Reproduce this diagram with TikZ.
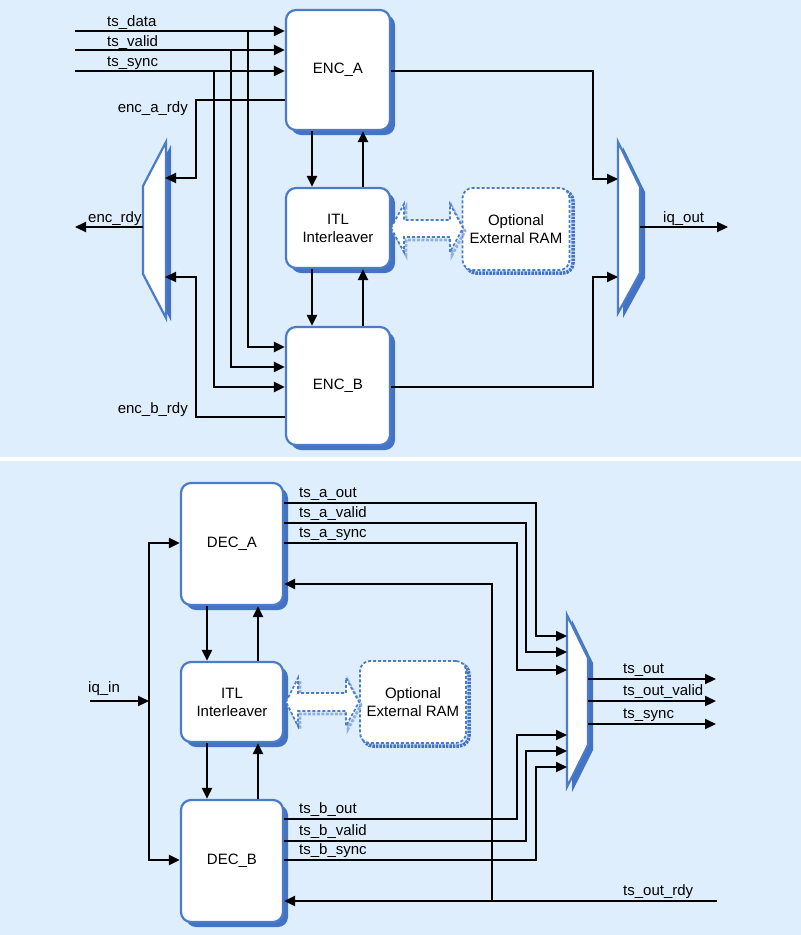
\documentclass[tikz,border=0pt]{standalone}
\usepackage{fontspec}
\setmainfont{Liberation Sans}
\usetikzlibrary{arrows.meta,shadows}
\definecolor{bg}{RGB}{222,238,253}
\definecolor{boxblue}{RGB}{74,124,200}
\definecolor{shblue}{RGB}{68,114,196}
\begin{document}
\begin{tikzpicture}[x=1pt,y=-1pt,font=\fontsize{15}{18}\selectfont,
  blk/.style={draw=boxblue,line width=2.2pt,fill=white,rounded corners=10pt,align=center,inner sep=0pt,
    drop shadow={shadow xshift=5pt,shadow yshift=-5pt,fill=shblue,opacity=1}},
  ram/.style={draw=boxblue,line width=1.8pt,dash pattern=on 3pt off 2pt,fill=white,rounded corners=10pt,align=center,inner sep=0pt},
  ramshadow/.style={draw=shblue,line width=3.5pt,dash pattern=on 2.5pt off 1pt,rounded corners=10pt},
  dblarrow/.style={draw=boxblue,line width=1.7pt,dash pattern=on 3pt off 2pt,fill=white},
  dblshadow/.style={draw=boxblue!60,line width=2.8pt,dash pattern=on 3pt off 1.5pt},
  muxbody/.style={draw=boxblue,line width=2.2pt,fill=white,line join=miter},
  muxshadow/.style={fill=shblue},
  wire/.style={line width=2.2pt,black},
  arr/.style={wire,-{Triangle[length=11pt,width=10pt]}},
  lbl/.style={inner sep=0pt}]
\useasboundingbox (0,0) rectangle (801,935);
% panels
\fill[white] (0,0) rectangle (801,935);
\fill[bg] (0,0) rectangle (801,457);
\fill[bg] (0,461) rectangle (801,935);

%================ TOP PANEL =================
\node[blk,minimum width=104pt,minimum height=120pt] (ENCA) at (338,70) {ENC\_A};
\node[blk,minimum width=104pt,minimum height=80pt] (ITLA) at (338,228) {ITL\\Interleaver};
\node[blk,minimum width=104pt,minimum height=118pt] (ENCB) at (338,386) {ENC\_B};
% external RAM (top)
\draw[ramshadow] (466,191) rectangle (573,273);
\node[ram,minimum width=107pt,minimum height=82pt] (RAMA) at (516,229) {Optional\\External RAM};
% double arrow (top)
\path[dblshadow] (393,231) -- (406,207) -- (406,223) -- (452,223) -- (452,207) -- (465,231) -- (452,255) -- (452,240) -- (406,240) -- (406,255) -- cycle;
\path[dblarrow] (391,228) -- (404,204) -- (404,220) -- (450,220) -- (450,204) -- (463,228) -- (450,252) -- (450,237) -- (404,237) -- (404,252) -- cycle;
% muxes (top)
\path[muxshadow] (171,145) -- (171,321) -- (148,277) -- (148,189) -- cycle;
\path[muxbody] (166,142) -- (166,318) -- (143,274) -- (143,186) -- cycle;
\path[muxshadow] (623,147) -- (645,192) -- (645,278) -- (623,318) -- cycle;
\path[muxbody] (618,142) -- (640,187) -- (640,273) -- (618,313) -- cycle;
\coordinate (muxA1) at (165,178);
\coordinate (muxA2) at (165,277);
\coordinate (muxAo) at (143,227);
\coordinate (muxB1) at (618,179);
\coordinate (muxB2) at (618,277);
\coordinate (muxBo) at (640,227);

% inputs
\coordinate (tsd) at (75,31);
\coordinate (tsv) at (75,50);
\coordinate (tss) at (75,71);
\draw[arr] (tsd) -- (tsd -| ENCA.west);
\draw[arr] (tsv) -- (tsv -| ENCA.west);
\draw[arr] (tss) -- (tss -| ENCA.west);
\coordinate (bd) at (248,347);
\coordinate (bv) at (231,367);
\coordinate (bs) at (214,387);
\draw[arr] (tsd -| bd) -- (bd) -- (bd -| ENCB.west);
\draw[arr] (tsv -| bv) -- (bv) -- (bv -| ENCB.west);
\draw[arr] (tss -| bs) -- (bs) -- (bs -| ENCB.west);
\node[lbl,anchor=base west] (Ltsd) at (107,26) {ts\_data};
\node[lbl,anchor=base west] (Ltsv) at (107,46) {ts\_valid};
\node[lbl,anchor=base west] (Ltss) at (107,66) {ts\_sync};

% ready signals
\coordinate (ardy) at (196,100);
\coordinate (brdy) at (196,417);
\draw[arr] (ardy -| ENCA.west) -- (ardy) |- (muxA1);
\draw[arr] (brdy -| ENCB.west) -- (brdy) |- (muxA2);
\node[lbl,anchor=base east] (Lardy) at (188,112) {enc\_a\_rdy};
\node[lbl,anchor=base east] (Lbrdy) at (188,413) {enc\_b\_rdy};
\coordinate (encrdy) at (75,227);
\draw[arr] (muxAo) -- (encrdy);
\node[lbl,anchor=base west] (Lencrdy) at (88,222) {enc\_rdy};

% ENC <-> ITL
\coordinate (xd) at (312,0);
\coordinate (xu) at (363,0);
\draw[arr] (ENCA.south -| xd) -- (ITLA.north -| xd);
\draw[arr] (ITLA.north -| xu) -- (ENCA.south -| xu);
\draw[arr] (ITLA.south -| xd) -- (ENCB.north -| xd);
\draw[arr] (ENCB.north -| xu) -- (ITLA.south -| xu);

% outputs
\coordinate (oa) at (593,71);
\coordinate (ob) at (593,387);
\draw[arr] (oa -| ENCA.east) -- (oa) |- (muxB1);
\draw[arr] (ob -| ENCB.east) -- (ob) |- (muxB2);
\coordinate (iqout) at (728,227);
\draw[arr] (muxBo) -- (iqout);
\node[lbl,anchor=base west] (Liqout) at (663,222) {iq\_out};

%================ BOTTOM PANEL =================
\node[blk,minimum width=102pt,minimum height=122pt] (DECA) at (232,544) {DEC\_A};
\node[blk,minimum width=102pt,minimum height=80pt] (ITLB) at (232,702) {ITL\\Interleaver};
\node[blk,minimum width=102pt,minimum height=122pt] (DECB) at (232,861) {DEC\_B};
\draw[ramshadow] (363,664) rectangle (469,746);
\node[ram,minimum width=106pt,minimum height=82pt] (RAMB) at (413,702) {Optional\\External RAM};
\path[dblshadow] (288,705) -- (300,681) -- (300,696) -- (348,696) -- (348,681) -- (361,705) -- (348,729) -- (348,714) -- (300,714) -- (300,729) -- cycle;
\path[dblarrow] (286,702) -- (298,678) -- (298,693) -- (346,693) -- (346,678) -- (359,702) -- (346,726) -- (346,711) -- (298,711) -- (298,726) -- cycle;
% mux (bottom)
\path[muxshadow] (572,620) -- (593,663) -- (593,750) -- (572,792) -- cycle;
\path[muxbody] (567,615) -- (588,658) -- (588,745) -- (567,787) -- cycle;
\coordinate (mc1) at (567,636);
\coordinate (mc2) at (567,652);
\coordinate (mc3) at (567,670);
\coordinate (mc4) at (567,735);
\coordinate (mc5) at (567,751);
\coordinate (mc6) at (567,767);

% iq_in
\coordinate (iqin) at (90,701);
\coordinate (vx) at (149,701);
\coordinate (va) at (149,543);
\coordinate (vb) at (149,860);
\draw[arr] (vx) |- (va -| DECA.west);
\draw[arr] (vx) |- (vb -| DECB.west);
\draw[arr] (iqin) -- (vx);
\node[lbl,anchor=base west] (Liqin) at (88,692) {iq\_in};

% DEC <-> ITL
\coordinate (xd2) at (207,0);
\coordinate (xu2) at (258,0);
\draw[arr] (DECA.south -| xd2) -- (ITLB.north -| xd2);
\draw[arr] (ITLB.north -| xu2) -- (DECA.south -| xu2);
\draw[arr] (ITLB.south -| xd2) -- (DECB.north -| xd2);
\draw[arr] (DECB.north -| xu2) -- (ITLB.south -| xu2);

% DEC outputs
\coordinate (a1) at (536,503);
\coordinate (a2) at (526,523);
\coordinate (a3) at (517,543);
\coordinate (b1) at (517,819);
\coordinate (b2) at (526,841);
\coordinate (b3) at (536,860);
\draw[arr] (a1 -| DECA.east) -- (a1) |- (mc1);
\draw[arr] (a2 -| DECA.east) -- (a2) |- (mc2);
\draw[arr] (a3 -| DECA.east) -- (a3) |- (mc3);
\draw[arr] (b1 -| DECB.east) -- (b1) |- (mc4);
\draw[arr] (b2 -| DECB.east) -- (b2) |- (mc5);
\draw[arr] (b3 -| DECB.east) -- (b3) |- (mc6);
\node[lbl,anchor=base west] (La1) at (299,497) {ts\_a\_out};
\node[lbl,anchor=base west] (La2) at (299,517) {ts\_a\_valid};
\node[lbl,anchor=base west] (La3) at (299,537) {ts\_a\_sync};
\node[lbl,anchor=base west] (Lb1) at (299,813) {ts\_b\_out};
\node[lbl,anchor=base west] (Lb2) at (299,835) {ts\_b\_valid};
\node[lbl,anchor=base west] (Lb3) at (299,854) {ts\_b\_sync};

% mux outputs
\coordinate (mo1) at (588,679);
\coordinate (mo2) at (588,701);
\coordinate (mo3) at (588,724);
\coordinate (to1) at (716,679);
\coordinate (to2) at (716,701);
\coordinate (to3) at (716,724);
\draw[arr] (mo1) -- (to1);
\draw[arr] (mo2) -- (to2);
\draw[arr] (mo3) -- (to3);
\node[lbl,anchor=base west] (Lo1) at (623,673) {ts\_out};
\node[lbl,anchor=base west] (Lo2) at (623,695) {ts\_out\_valid};
\node[lbl,anchor=base west] (Lo3) at (623,718) {ts\_sync};

% ts_out_rdy
\coordinate (rdy) at (717,901);
\coordinate (rj) at (492,901);
\coordinate (rt) at (492,584);
\draw[arr] (rdy) -- (rdy -| DECB.east);
\draw[arr] (rj) |- (rt -| DECA.east);
\node[lbl,anchor=base west] (Lrdy) at (623,895) {ts\_out\_rdy};
\end{tikzpicture}
\end{document}
